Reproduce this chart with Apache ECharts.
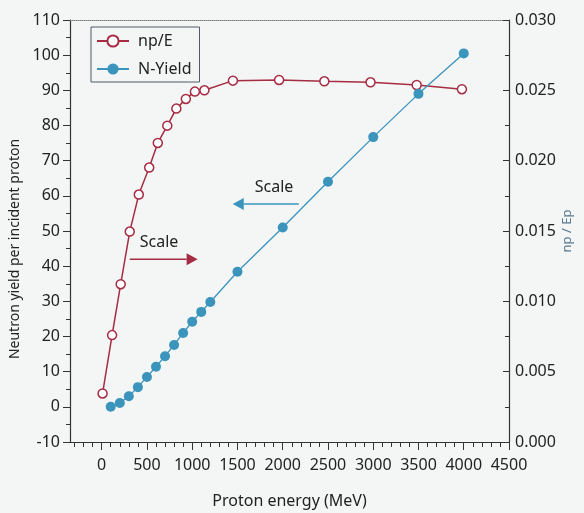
<!DOCTYPE html>
<html><head><meta charset="utf-8">
<script src="https://cdn.jsdelivr.net/npm/echarts@6/dist/echarts.min.js"></script>
<style>html,body{margin:0;padding:0;background:#f4f5f5}#c{width:584px;height:513px}</style>
</head><body><div id="c"></div><script>
// Data
const npeEnergy = [10,115,210,310,410,525,620,725,825,930,1030,1135,1450,1960,2460,2970,3480,3980];
const npeValues = [0.00345,0.00760,0.01122,0.01496,0.01759,0.01951,0.02126,0.02249,0.02370,0.02439,0.02491,0.02500,0.02569,0.02574,0.02564,0.02557,0.02538,0.02508];
const yieldEnergy = [100,200,300,400,500,600,700,800,900,1000,1100,1200,1500,2000,2500,3000,3500,4000];
const yieldValues = [0,1.1,3.0,5.6,8.5,11.4,14.4,17.6,21.0,24.2,27.0,29.8,38.4,51.0,64.0,76.7,89.0,100.5];
const xTickLabels = [0,500,1000,1500,2000,2500,3000,3500,4000,4500];
const xMinorTicks = [-300,-200,-100,100,200,300,400,600,700,800,900,1100,1200,1300,1400,1600,1700,1800,1900,2100,2200,2300,2400,2600,2700,2800,2900,3100,3200,3300,3400,3600,3700,3800,3900,4100,4200,4300,4400];
// annotations in data coords: [xStart, xEnd, leftY]
const redArrow = [310, 1060, 42];
const blueArrow = [2177, 1448, 57.7];

const RED = '#a52c43', BLUE = '#3a94bc', AX = '#333';
const font = 'Noto Sans';
const chart = echarts.init(document.getElementById('c'));
const pair = (xs, ys) => xs.map((x, i) => [x, ys[i]]);
chart.setOption({
  backgroundColor: '#f4f5f5',
  textStyle: {fontFamily: font},
  animation: false,
  grid: {left: 70, right: 75, top: 20, bottom: 71, containLabel: false, outerBoundsMode: 'none'},
  legend: {
    orient: 'vertical', left: 91, top: 27, padding: [6, 8, 5, 5],
    itemWidth: 32, itemHeight: 14, itemGap: 12,
    borderColor: '#4f5b66', borderWidth: 1, backgroundColor: '#f4f5f5',
    textStyle: {fontSize: 16, color: '#222', fontFamily: font, padding: [0, 0, 0, 4]},
    data: ['np/E', 'N-Yield']
  },
  xAxis: [
    {type: 'value', min: -350, max: 4500, position: 'bottom',
     name: 'Proton energy (MeV)', nameLocation: 'middle', nameGap: 51,
     nameTextStyle: {fontSize: 16, color: '#222'},
     axisLine: {onZero: false, lineStyle: {color: AX, width: 1.2}},
     axisTick: {customValues: xTickLabels, length: 8, lineStyle: {color: AX}},
     axisLabel: {customValues: xTickLabels, margin: 15, fontSize: 16, color: '#222', formatter: v => String(v)},
     splitLine: {show: false}},
    {type: 'value', min: -350, max: 4500, position: 'bottom',
     axisLine: {show: false, onZero: false},
     axisTick: {customValues: xMinorTicks, length: 5, lineStyle: {color: AX}},
     axisLabel: {show: false}, splitLine: {show: false}},
    {type: 'value', min: -350, max: 4500, position: 'top',
     axisLine: {onZero: false, lineStyle: {color: '#777', type: 'dotted', width: 1}},
     axisTick: {show: false}, axisLabel: {show: false}, splitLine: {show: false}}
  ],
  yAxis: [
    {type: 'value', min: -10, max: 110, interval: 10, position: 'left',
     name: 'Neutron yield per incident proton', nameLocation: 'middle', nameGap: 48,
     nameTextStyle: {fontSize: 14, color: '#222', padding: [0, 36, 0, 0]},
     axisLine: {show: true, onZero: false, lineStyle: {color: AX, width: 1.2}},
     axisTick: {show: true, length: 7, lineStyle: {color: AX}},
     minorTick: {show: true, splitNumber: 2, length: 4, lineStyle: {color: AX}},
     axisLabel: {margin: 10, fontSize: 16, color: '#222'},
     splitLine: {show: false}},
    {type: 'value', min: 0, max: 0.03, interval: 0.005, position: 'right',
     name: 'np / Ep', nameLocation: 'middle', nameGap: 52, nameRotate: 90, nameMoveOverlap: false,
     nameTextStyle: {fontSize: 13, color: '#5d7b90'},
     axisLine: {show: true, onZero: false, lineStyle: {color: AX, width: 1.2}},
     axisTick: {show: true, inside: true, length: 6, lineStyle: {color: AX}},
     minorTick: {show: true, splitNumber: 2, length: 4, lineStyle: {color: AX}},
     axisLabel: {margin: 6, fontSize: 16, color: '#222', formatter: v => v.toFixed(3)},
     splitLine: {show: false}}
  ],
  series: [
    {name: 'np/E', type: 'line', xAxisIndex: 0, yAxisIndex: 1, data: pair(npeEnergy, npeValues),
     symbol: 'circle', symbolSize: 9, color: RED,
     lineStyle: {color: RED, width: 1.5},
     itemStyle: {color: '#ffffff', borderColor: RED, borderWidth: 1.5}},
    {name: 'N-Yield', type: 'line', xAxisIndex: 0, yAxisIndex: 0, data: pair(yieldEnergy, yieldValues),
     symbol: 'circle', symbolSize: 10, color: BLUE,
     lineStyle: {color: BLUE, width: 1.3},
     itemStyle: {color: BLUE, borderWidth: 0}}
  ]
});

function arrow(a, color) {
  const p0 = chart.convertToPixel({xAxisIndex: 0, yAxisIndex: 0}, [a[0], a[2]]);
  const p1 = chart.convertToPixel({xAxisIndex: 0, yAxisIndex: 0}, [a[1], a[2]]);
  const dir = Math.sign(p1[0] - p0[0]);
  const base = p1[0] - dir * 11;
  return [
    {type: 'line', shape: {x1: p0[0], y1: p0[1], x2: base, y2: p1[1]}, style: {stroke: color, lineWidth: 1.5}},
    {type: 'polygon', shape: {points: [[p1[0], p1[1]], [base, p1[1] - 6], [base, p1[1] + 6]]}, style: {fill: color}}
  ];
}
const g = [].concat(arrow(redArrow, RED), arrow(blueArrow, BLUE));
const rl = chart.convertToPixel({xAxisIndex: 0, yAxisIndex: 0}, [redArrow[0], redArrow[2]]);
const bl = chart.convertToPixel({xAxisIndex: 0, yAxisIndex: 0}, [blueArrow[0], blueArrow[2]]);
g.push({type: 'text', x: rl[0] + 10, y: rl[1] - 17, style: {text: 'Scale', fontSize: 16, fontFamily: font, fill: '#222', verticalAlign: 'middle'}});
g.push({type: 'text', x: bl[0] - 44, y: bl[1] - 16, style: {text: 'Scale', fontSize: 16, fontFamily: font, fill: '#222', verticalAlign: 'middle'}});
chart.setOption({graphic: g});
</script></body></html>
